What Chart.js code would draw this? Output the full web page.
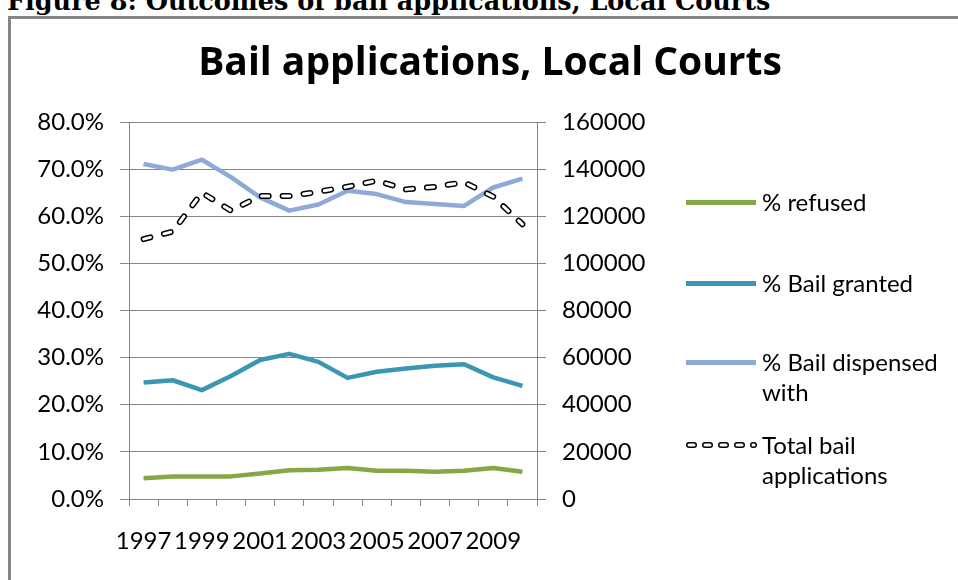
<!DOCTYPE html>
<html>
<head>
<meta charset="utf-8">
<script src="https://cdn.jsdelivr.net/npm/chart.js@4.4.1/dist/chart.umd.min.js"></script>
<style>
  html, body { margin: 0; padding: 0; background: #fff; overflow: hidden; width: 958px; height: 580px; }
  #caption { position: absolute; left: 7px; top: -11px; font: bold 25.5px "DejaVu Serif", serif; line-height: 25.5px; white-space: nowrap; color: #000; }
  #frame { position: absolute; left: 8px; top: 16px; width: 1000px; height: 620px; border-left: 3px solid #868686; border-top: 3px solid #868686; background: #fff; }
  #chart { position: absolute; left: 0; top: 0; }
  .leg { position: absolute; left: 686px; font: 24px Lato, sans-serif; color: #000; }
  .leg .txt { position: absolute; left: 76px; top: 0; line-height: 30px; white-space: nowrap; }
  .leg .sw { position: absolute; left: 0; top: 13px; width: 70px; height: 4.5px; }
</style>
</head>
<body>
<div id="caption">Figure 8: Outcomes of bail applications, Local Courts</div>
<div id="frame"></div>
<canvas id="chart" width="958" height="580"></canvas>
<div id="legend"></div>
<script>
// 연도 (x축)
const years = ['1997','1998','1999','2000','2001','2002','2003','2004','2005','2006','2007','2008','2009','2010'];

// 왼쪽 축 (%)
const pctRefused   = [4.4, 4.8, 4.8, 4.8, 5.4, 6.1, 6.2, 6.6, 6.0, 6.0, 5.8, 6.0, 6.6, 5.8];
const pctGranted   = [24.7, 25.2, 23.1, 26.1, 29.5, 30.8, 29.1, 25.7, 27.0, 27.7, 28.3, 28.6, 25.8, 24.0];
const pctDispensed = [71.1, 69.9, 72.0, 68.3, 64.0, 61.2, 62.5, 65.4, 64.7, 63.0, 62.6, 62.2, 66.1, 68.0];

// 오른쪽 축 (건수)
const totalApps = [110300, 113500, 130000, 122400, 128600, 128600, 130400, 132500, 135100, 131400, 132500, 134400, 128300, 116600];

const gridGrey = '#868686';
const tickFont = { family: 'Lato', size: 24 };
const dashPattern = [7, 14];

const legendItems = [
  { label: ['% refused'], color: '#84a845' },
  { label: ['% Bail granted'], color: '#3b96b1' },
  { label: ['% Bail dispensed', 'with'], color: '#8eaad6' },
  { label: ['Total bail', 'applications'], dashed: true }
];
const legendY = [202, 283, 362, 445];

const chart = new Chart(document.getElementById('chart'), {
  type: 'line',
  data: {
    labels: years,
    datasets: [
      {
        label: 'Total bail applications (inner)',
        data: totalApps, yAxisID: 'y2', order: 0,
        borderColor: '#ffffff', borderWidth: 3,
        borderDash: dashPattern, borderCapStyle: 'round',
        pointRadius: 0, tension: 0
      },
      {
        label: 'Total bail applications',
        data: totalApps, yAxisID: 'y2', order: 1,
        borderColor: '#000000', borderWidth: 6,
        borderDash: dashPattern, borderCapStyle: 'round',
        pointRadius: 0, tension: 0
      },
      {
        label: '% Bail dispensed with',
        data: pctDispensed, yAxisID: 'y', order: 2,
        borderColor: legendItems[2].color, borderWidth: 4.5, borderJoinStyle: 'round',
        pointRadius: 0, tension: 0
      },
      {
        label: '% Bail granted',
        data: pctGranted, yAxisID: 'y', order: 3,
        borderColor: legendItems[1].color, borderWidth: 4.5, borderJoinStyle: 'round',
        pointRadius: 0, tension: 0
      },
      {
        label: '% refused',
        data: pctRefused, yAxisID: 'y', order: 4,
        borderColor: legendItems[0].color, borderWidth: 4.5, borderJoinStyle: 'round',
        pointRadius: 0, tension: 0
      }
    ]
  },
  options: {
    responsive: false,
    animation: false,
    devicePixelRatio: 1,
    layout: { padding: { left: 30, right: 8, top: 0, bottom: 0 } },
    plugins: {
      legend: { display: false },
      tooltip: { enabled: false },
      title: {
        display: true,
        text: 'Bail applications, Local Courts',
        color: '#000',
        font: { family: 'Open Sans', weight: 'bold', size: 39, lineHeight: 1.2 },
        padding: { top: 40.6, bottom: 34.6 }
      }
    },
    scales: {
      x: {
        offset: true,
        grid: { offset: true, drawOnChartArea: false, tickLength: 7, color: gridGrey },
        border: { color: gridGrey },
        ticks: {
          autoSkip: false, maxRotation: 0, minRotation: 0,
          color: '#000', font: tickFont, padding: 21,
          callback: (v, i) => (i % 2 === 0 ? years[i] : '')
        },
        afterFit: s => { s.height = 81; }
      },
      y: {
        position: 'left',
        min: 0, max: 80,
        grid: { color: gridGrey, tickLength: 9 },
        border: { color: gridGrey },
        ticks: {
          stepSize: 10, color: '#000', font: tickFont, padding: 16,
          callback: v => v.toFixed(1) + '%'
        },
        afterFit: s => { s.width = 99; }
      },
      y2: {
        position: 'right',
        min: 0, max: 160000,
        grid: { drawOnChartArea: false, color: gridGrey, tickLength: 9 },
        border: { color: gridGrey },
        ticks: {
          stepSize: 20000, color: '#000', font: tickFont, padding: 16,
          callback: v => String(v)
        },
        afterFit: s => { s.width = 413; }
      }
    }
  }
});

// 범례 (여러 줄 라벨 때문에 HTML로)
const legendBox = document.getElementById('legend');
legendItems.forEach((it, i) => {
  const d = document.createElement('div');
  d.className = 'leg';
  d.style.top = (legendY[i] - 15) + 'px';
  if (it.dashed) {
    const c = document.createElement('canvas');
    c.width = 74; c.height = 12;
    c.style.position = 'absolute'; c.style.left = '-2px'; c.style.top = '9px';
    const g = c.getContext('2d');
    g.lineCap = 'round';
    g.setLineDash([5, 11]);
    g.beginPath(); g.moveTo(5, 6); g.lineTo(70, 6);
    g.strokeStyle = '#000'; g.lineWidth = 6; g.stroke();
    g.strokeStyle = '#fff'; g.lineWidth = 3; g.stroke();
    d.appendChild(c);
  } else {
    const sw = document.createElement('div');
    sw.className = 'sw';
    sw.style.background = it.color;
    d.appendChild(sw);
  }
  const t = document.createElement('div');
  t.className = 'txt';
  t.innerHTML = it.label.join('<br>');
  d.appendChild(t);
  legendBox.appendChild(d);
});
</script>
</body>
</html>
